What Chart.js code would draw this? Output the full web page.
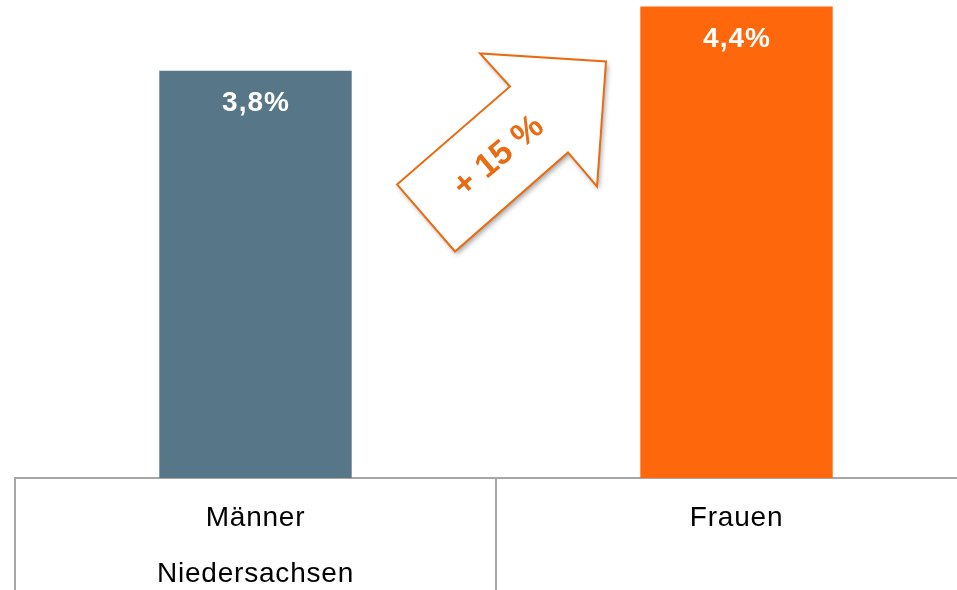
<!DOCTYPE html>
<html>
<head>
<meta charset="utf-8">
<script src="https://cdn.jsdelivr.net/npm/chart.js@4.4.0/dist/chart.umd.min.js"></script>
<style>
    html, body { margin: 0; padding: 0; background: #fff; overflow: hidden; }
    canvas { display: block; }
</style>
</head>
<body>
<canvas id="chart" width="977" height="590"></canvas>
<script>
// ─── Data ───
const categories = [['Männer', 'Niedersachsen'], 'Frauen'];
const values = [3.8, 4.4];
const valueLabels = ['3,8%', '4,4%'];
const changeLabel = '+ 15 %';

// ─── Colors ───
const C = {
    men:    '#577687',
    women:  '#ff670c',
    arrow:  '#e96b12',
    line:   '#a6a6a6',
    text:   '#000000'
};

// Letter spacing for tick labels (reference text is a bit wide)
const tickSpacing = {
    id: 'tickSpacing',
    beforeDraw(chart) {
        chart.ctx.letterSpacing = '0.8px';
    }
};

// White value labels inside the top of each bar
const barLabels = {
    id: 'barLabels',
    afterDatasetsDraw(chart) {
        const ctx = chart.ctx;
        const meta = chart.getDatasetMeta(0);
        ctx.save();
        ctx.letterSpacing = '1px';
        ctx.fillStyle = '#ffffff';
        ctx.font = 'bold 28px "Liberation Sans", Arial, sans-serif';
        ctx.textAlign = 'center';
        ctx.textBaseline = 'middle';
        meta.data.forEach((bar, i) => {
            ctx.fillText(valueLabels[i], bar.x + 0.5, bar.y + 33);
        });
        ctx.restore();
    }
};

// "+ 15 %" arrow between the bars
const changeArrow = {
    id: 'changeArrow',
    afterDraw(chart) {
        const ctx = chart.ctx;
        const meta = chart.getDatasetMeta(0);
        const cx = (meta.data[0].x + meta.data[1].x) / 2;
        const cy = chart.scales.y.getPixelForValue(3.0);
        // arrow outline, relative to its centre
        const pts = [[-99, 28], [14, -70], [-16, -103], [110, -95],
                     [101, 30], [72, -4], [-41, 95]];
        ctx.save();
        ctx.beginPath();
        pts.forEach((p, i) => {
            if (i === 0) ctx.moveTo(cx + p[0], cy + p[1]);
            else ctx.lineTo(cx + p[0], cy + p[1]);
        });
        ctx.closePath();
        ctx.shadowColor = 'rgba(0,0,0,0.35)';
        ctx.shadowBlur = 5;
        ctx.shadowOffsetX = 2;
        ctx.shadowOffsetY = 3;
        ctx.fillStyle = '#ffffff';
        ctx.fill();
        ctx.shadowColor = 'transparent';
        ctx.lineWidth = 2;
        ctx.strokeStyle = C.arrow;
        ctx.stroke();

        ctx.translate(cx, cy);
        ctx.rotate(-40 * Math.PI / 180);
        ctx.letterSpacing = '0px';
        ctx.fillStyle = C.arrow;
        ctx.font = 'bold 34px "Liberation Sans", Arial, sans-serif';
        ctx.textAlign = 'center';
        ctx.textBaseline = 'middle';
        ctx.fillText(changeLabel, 2, 2);
        ctx.restore();
    }
};

new Chart(document.getElementById('chart'), {
    type: 'bar',
    data: {
        labels: categories,
        datasets: [{
            data: values,
            backgroundColor: [C.men, C.women],
            borderWidth: 0,
            barPercentage: 0.4,
            categoryPercentage: 1.0
        }]
    },
    options: {
        responsive: false,
        animation: false,
        devicePixelRatio: 1,
        layout: { padding: { left: 15, right: 0, top: 0, bottom: 0 } },
        plugins: {
            legend: { display: false },
            tooltip: { enabled: false }
        },
        scales: {
            y: {
                display: false,
                min: 0,
                max: 4.46
            },
            x: {
                offset: true,
                grid: {
                    offset: true,
                    drawOnChartArea: false,
                    drawTicks: true,
                    tickLength: 112,
                    tickColor: C.line,
                    tickWidth: 2,
                    color: C.line,
                    lineWidth: 2
                },
                border: { display: true, color: C.line, width: 2 },
                ticks: {
                    color: C.text,
                    padding: -99,
                    maxRotation: 0,
                    autoSkip: false,
                    font: { family: '"Liberation Sans", Arial, sans-serif', size: 28, lineHeight: 1.98 }
                },
                afterFit(scale) { scale.height = 112; }
            }
        }
    },
    plugins: [tickSpacing, barLabels, changeArrow]
});
</script>
</body>
</html>
